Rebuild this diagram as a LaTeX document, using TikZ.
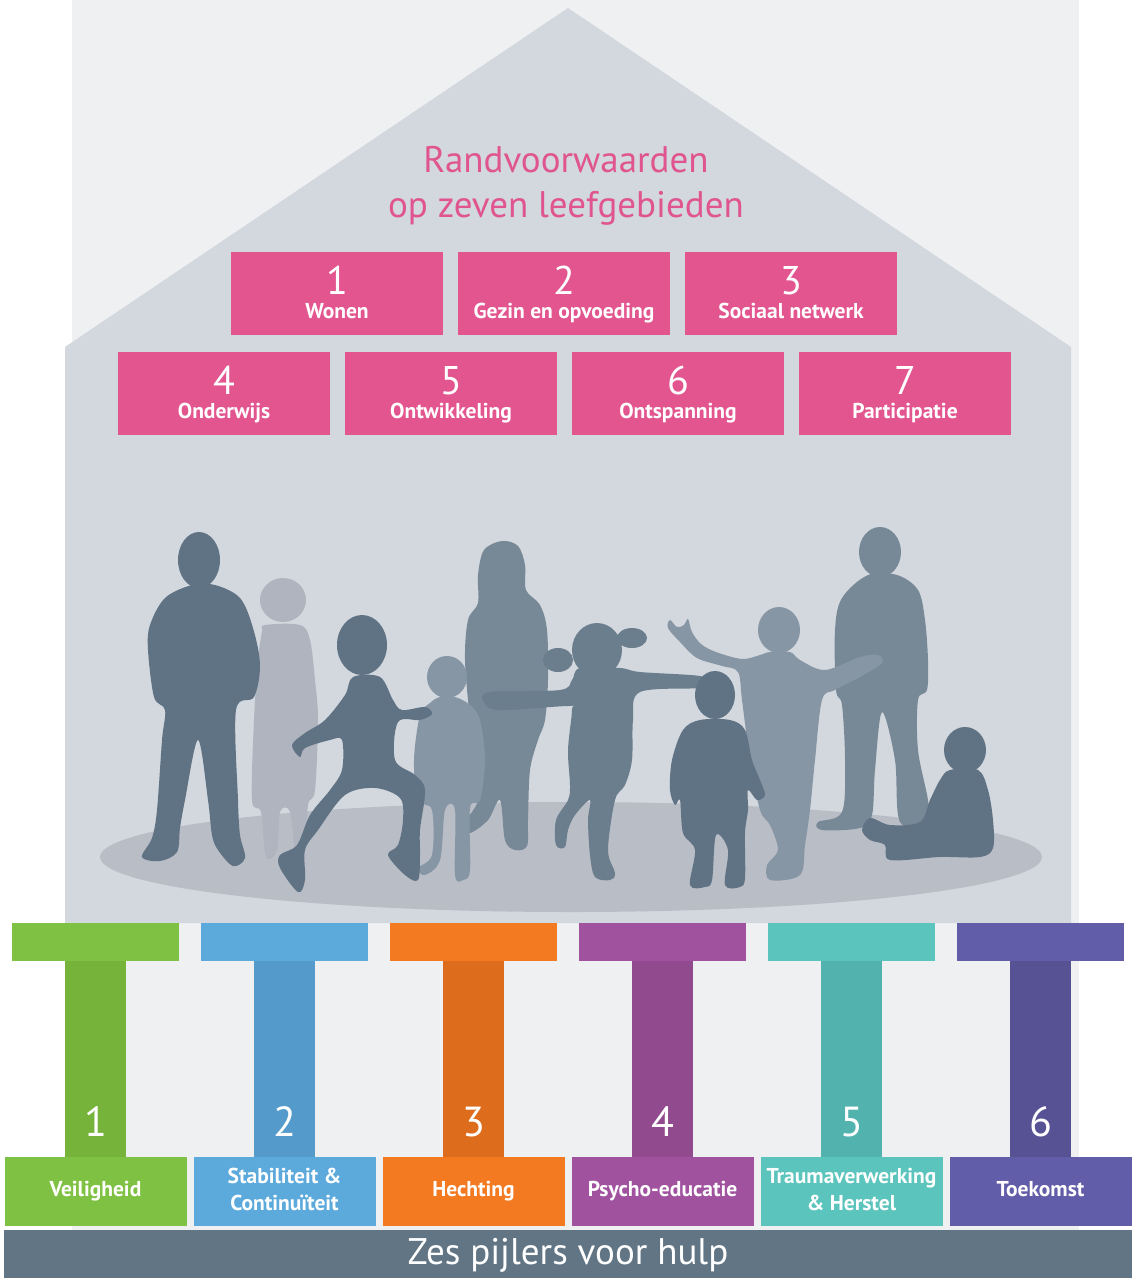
\documentclass[tikz,border=0pt]{standalone}
\usepackage{fontspec}
\setmainfont{PT Sans}
\usetikzlibrary{calc}
\definecolor{bglight}{HTML}{EFF0F2}
\definecolor{housegrey}{HTML}{D3D7DE}
\definecolor{floorgrey}{HTML}{B9BDC6}
\definecolor{pinkbox}{HTML}{E3558F}
\definecolor{pinktxt}{HTML}{E0558F}
\definecolor{pdark}{HTML}{607384}
\definecolor{pmid}{HTML}{778897}
\definecolor{plight}{HTML}{8796A4}
\definecolor{pghost}{HTML}{AFB4BE}
\definecolor{pgirl}{HTML}{6B7E8E}
\definecolor{barslate}{HTML}{627584}
\definecolor{gcap}{HTML}{7FC142}\definecolor{gstem}{HTML}{76B33A}
\definecolor{bcap}{HTML}{5CA9DC}\definecolor{bstem}{HTML}{549ACB}
\definecolor{ocap}{HTML}{F47A22}\definecolor{ostem}{HTML}{DE6C1D}
\definecolor{vcap}{HTML}{A0529F}\definecolor{vstem}{HTML}{924A8E}
\definecolor{tcap}{HTML}{5BC4BC}\definecolor{tstem}{HTML}{52B2AD}
\definecolor{icap}{HTML}{625DA8}\definecolor{istem}{HTML}{575294}
\tikzset{
  plainrect/.style={rectangle, inner sep=0pt, outer sep=0pt},
  pinkrect/.style={plainrect, fill=pinkbox, minimum width=212, minimum height=83},
  pinknum/.style={text=white, font=\fontsize{40}{40}\selectfont, inner sep=0pt},
  pinklab/.style={text=white, font=\fontsize{21.5}{23}\selectfont\bfseries, inner sep=0pt},
  titletxt/.style={text=pinktxt, font=\fontsize{37}{45}\selectfont, align=center, inner sep=0pt},
  caprect/.style={plainrect, minimum width=167, minimum height=38},
  stemrect/.style={plainrect, minimum width=61, minimum height=196},
  baserect/.style={plainrect, minimum width=182, minimum height=69},
  stemnum/.style={text=white, font=\fontsize{42}{42}\selectfont, inner sep=0pt},
  baselab/.style={text=white, font=\fontsize{21.5}{27}\selectfont\bfseries, align=center, inner sep=0pt},
  person/.style={smooth cycle, tension=0.55},
}
\begin{document}
\begin{tikzpicture}[x=1pt,y=-1pt]
\useasboundingbox (0,0) rectangle (1137,1278);
\fill[white] (0,0) rectangle (1137,1278);
\fill[bglight] (72,0) rectangle (1079,1230);
% house
\fill[housegrey] (65,347) -- (568,8) -- (1071,347) -- (1071,923) -- (65,923) -- cycle;
% title
\node[titletxt] (title) at (566,186) {Randvoorwaarden\\op zeven leefgebieden};
% pink boxes
\foreach \n/\x/\y/\lab in {1/337/293.5/Wonen, 2/564/293.5/Gezin en opvoeding, 3/791/293.5/Sociaal netwerk,
  4/224/393.5/Onderwijs, 5/451/393.5/Ontwikkeling, 6/678/393.5/Ontspanning, 7/905/393.5/Participatie}{
  \node[pinkrect] (area\n) at (\x,\y) {};
  \node[pinknum] (areanum\n) at ($(area\n.center)+(0,-13)$) {\n};
  \node[pinklab] (arealab\n) at ($(area\n.center)+(0,20.5)$) {\strut\lab};
}
% floor
\fill[floorgrey] (571,857) ellipse [x radius=471, y radius=55];
% ghost child
\fill[pghost] plot[person] coordinates {(265,625) (300,625) (310,640) (315,680) (318,720) (315,790) (308,805) (305,850) (296,857) (290,812) (280,812) (277,850) (266,857) (261,812) (252,800) (254,720) (258,660) (262,632)};
\fill[pghost] (283,600) ellipse [x radius=23, y radius=22];
% man
\fill[pdark] plot[person] coordinates {(192,585) (215,585) (240,598) (253,628) (260,665) (254,697) (236,710) (238,800) (240,835) (245,858) (233,866) (218,850) (212,835) (208,800) (198,740) (185,800) (180,828) (177,852) (160,861) (142,857) (152,838) (157,810) (162,740) (165,710) (154,697) (148,650) (150,625) (165,598)};
\fill[pdark] (199,560) ellipse [x radius=21, y radius=28];
% woman
\fill[pmid] plot[person] coordinates {(502,541) (518,546) (525,565) (526,590) (540,605) (547,630) (548,680) (545,720) (538,740) (530,770) (528,820) (527,846) (515,850) (505,840) (500,800) (488,820) (470,833) (463,825) (478,800) (475,760) (470,720) (465,660) (468,620) (478,603) (478,575) (484,550)};
% child in front of woman
\fill[plight] plot[person] coordinates {(440,697) (455,697) (470,705) (480,720) (485,760) (480,800) (470,808) (470,870) (463,880) (455,875) (455,810) (445,810) (440,860) (425,875) (418,868) (432,855) (432,810) (418,800) (414,760) (420,715) (430,703)};
\fill[plight] (447,677) ellipse [x radius=20, y radius=21];
% running girl
\fill[pdark] plot[person] coordinates {(353,677) (380,677) (393,700) (402,710) (425,707) (432,714) (420,720) (398,722) (395,760) (415,775) (425,790) (420,830) (420,855) (418,880) (405,875) (388,855) (398,845) (403,820) (400,798) (375,788) (345,795) (318,830) (305,850) (305,880) (298,892) (280,868) (280,855) (297,845) (310,815) (330,790) (342,770) (342,740) (330,740) (305,748) (300,757) (292,745) (305,733) (325,720) (345,695)};
\fill[pdark] (362,645) ellipse [x radius=25, y radius=30];
% teen standing right
\fill[pmid] plot[person] coordinates {(868,575) (897,575) (918,590) (925,620) (928,660) (927,690) (918,700) (918,750) (928,800) (928,822) (900,822) (895,760) (882,712) (875,770) (872,815) (860,828) (822,830) (818,822) (842,812) (845,760) (842,705) (836,690) (835,630) (842,598)};
\fill[pmid] (880,552) ellipse [x radius=21, y radius=25];
% boy with arms up
\fill[plight] plot[person] coordinates {(770,652) (790,652) (800,660) (825,670) (860,657) (878,655) (882,663) (860,677) (835,690) (822,700) (815,760) (810,810) (805,845) (800,875) (770,880) (767,865) (778,850) (770,825) (760,810) (750,760) (742,700) (738,672) (722,666) (697,658) (680,642) (668,628) (670,620) (677,627) (684,625) (688,619) (692,632) (701,644) (716,652) (742,659) (760,655)};
\fill[plight] (779,630) ellipse [x radius=21, y radius=23];
% girl with pigtails
\fill[pgirl] plot[person] coordinates {(580,668) (620,668) (640,672) (700,676) (704,683) (700,688) (640,692) (633,720) (632,760) (625,785) (615,800) (608,850) (615,873) (610,880) (595,877) (590,855) (588,820) (590,800) (575,815) (568,830) (565,847) (556,845) (556,820) (568,800) (570,785) (568,750) (572,710) (568,706) (500,710) (484,702) (490,692) (560,690) (572,680)};
\fill[pgirl] (597,650) ellipse [x radius=25, y radius=27];
\fill[pgirl] (558,660) ellipse [x radius=15, y radius=12];
\fill[pgirl] (632,638) ellipse [x radius=15, y radius=10];
% toddler
\fill[pdark] plot[person] coordinates {(700,720) (730,720) (745,730) (752,760) (760,780) (765,795) (757,800) (748,790) (748,810) (745,833) (745,878) (740,887) (725,885) (728,850) (716,835) (712,880) (705,887) (690,885) (695,850) (683,833) (680,800) (675,805) (670,790) (672,760) (683,730)};
\fill[pdark] (715,695) ellipse [x radius=20, y radius=24];
% sitting baby
\fill[pdark] plot[person] coordinates {(950,770) (978,770) (988,790) (993,820) (993,848) (980,857) (940,857) (890,860) (885,845) (870,840) (862,830) (870,818) (890,825) (920,822) (930,800) (940,780)};
\fill[pdark] (965,750) ellipse [x radius=21, y radius=23];
% pillars
\foreach \i/\cc/\sc/\lab in {1/gcap/gstem/{\strut Veiligheid}, 2/bcap/bstem/{\strut Stabiliteit \&\\\strut Continuïteit}, 3/ocap/ostem/{\strut Hechting},
  4/vcap/vstem/{\strut Psycho-educatie}, 5/tcap/tstem/{\strut Traumaverwerking\\\strut\& Herstel}, 6/icap/istem/{\strut Toekomst}}{
  \pgfmathsetmacro{\cx}{95.5+189*(\i-1)}
  \node[caprect, fill=\cc] (cap\i) at (\cx,942) {};
  \node[stemrect, fill=\sc, anchor=north] (stem\i) at (cap\i.south) {};
  \node[baserect, fill=\cc, anchor=north] (base\i) at (stem\i.south) {};
  \node[stemnum] (num\i) at ($(stem\i.south)+(0,-35)$) {\i};
  \node[baselab] (lab\i) at (base\i.center) {\lab};
}
% bottom bar
\node[plainrect, fill=barslate, minimum width=1128, minimum height=48] (bar) at (568,1254) {};
\node[text=white, font=\fontsize{37}{37}\selectfont, inner sep=0pt] (bartxt) at ($(bar.center)+(0,1)$) {Zes pijlers voor hulp};
\end{tikzpicture}
\end{document}
